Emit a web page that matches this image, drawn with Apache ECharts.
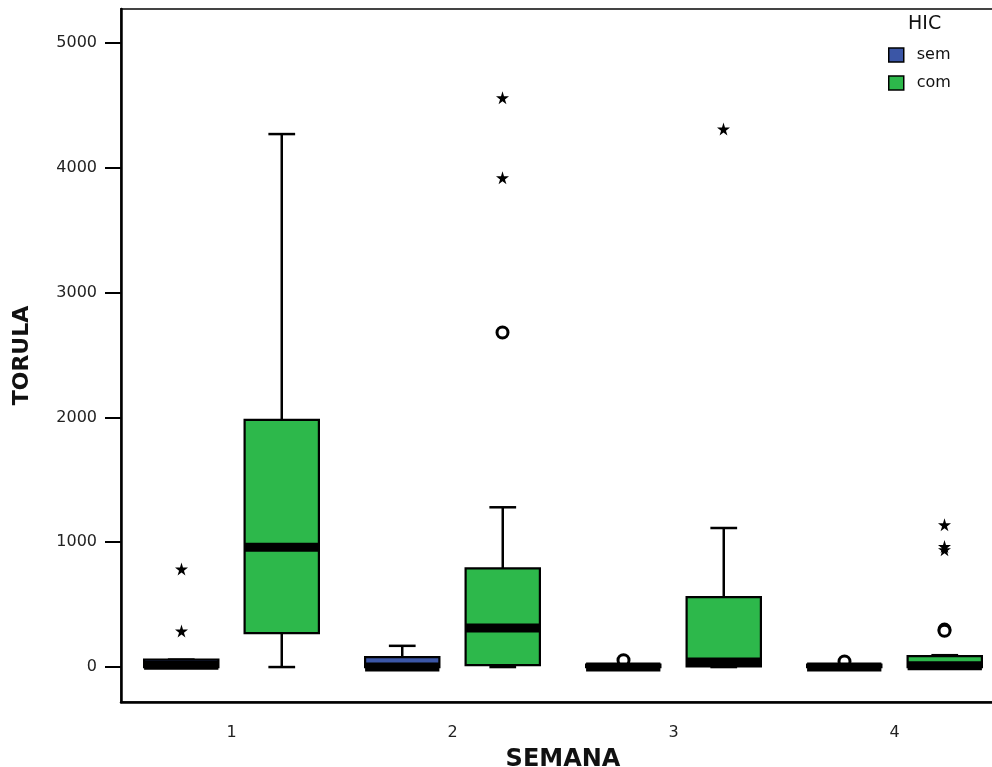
<!DOCTYPE html>
<html>
<head>
<meta charset="utf-8">
<script src="https://cdn.jsdelivr.net/npm/echarts@6/dist/echarts.min.js"></script>
<style>
  html, body { margin: 0; padding: 0; background: #fff; }
  #grafico { width: 992px; height: 767px; }
</style>
</head>
<body>
<div id="grafico"></div>
<script>
// semanas e ticks
var semanas = ['1', '2', '3', '4'];
var ticksY = [0, 1000, 2000, 3000, 4000, 5000];

// caixas: [min, Q1, mediana, Q3, max]
var caixasSem = [
    [0, 0, 15, 60, 60],
    [0, 0, 0, 80, 170],
    [0, 0, 0, 20, 20],
    [0, 0, 0, 20, 20]
];
var caixasCom = [
    [0, 272, 960, 1980, 4270],
    [0, 15, 312, 790, 1280],
    [0, 5, 40, 561, 1114],
    [0, 0, 10, 88, 95]
];

// outliers [semana, valor]
var estrelasSem = [[0, 785], [0, 288]];
var circulosSem = [[2, 55], [3, 45]];
var estrelasCom = [[1, 4560], [1, 3920], [2, 4310], [3, 1140], [3, 965], [3, 940]];
var circulosCom = [[1, 2680], [3, 300], [3, 290]];

var AZUL = '#3b56a6';
var VERDE = '#2db84b';
var ESTRELA = 'path://M50,0 L61,35 L98,35 L68,57 L79,91 L50,70 L21,91 L32,57 L2,35 L39,35 Z';
var fonte = 'DejaVu Sans';

// desloca cada grupo (sem = -1, com = +1) dentro da faixa da categoria
function desenhaCaixa(lado, cor) {
    return function (params, api) {
        var i = api.value(0);
        var banda = api.size([1, 0])[0];
        var util = banda * 0.8 - 2;
        var gap = util / 2 * 0.3;
        var larg = (util - gap) / 2;
        var cx = api.coord([i, 0])[0] + lado * (larg + gap) / 2;
        var yMin = api.coord([i, api.value(1)])[1];
        var yQ1 = api.coord([i, api.value(2)])[1];
        var yMed = api.coord([i, api.value(3)])[1];
        var yQ3 = api.coord([i, api.value(4)])[1];
        var yMax = api.coord([i, api.value(5)])[1];
        var capa = larg * 0.36;
        var linha = { stroke: '#000', lineWidth: 2.5 };
        return {
            type: 'group',
            children: [
                { type: 'line', shape: { x1: cx, y1: yMax, x2: cx, y2: yQ3 }, style: linha },
                { type: 'line', shape: { x1: cx, y1: yQ1, x2: cx, y2: yMin }, style: linha },
                { type: 'line', shape: { x1: cx - capa / 2, y1: yMax, x2: cx + capa / 2, y2: yMax }, style: linha },
                { type: 'line', shape: { x1: cx - capa / 2, y1: yMin, x2: cx + capa / 2, y2: yMin }, style: linha },
                {
                    type: 'rect',
                    shape: { x: cx - larg / 2, y: yQ3, width: larg, height: yQ1 - yQ3 },
                    style: { fill: cor, stroke: '#000', lineWidth: 2.2 }
                },
                {
                    type: 'rect',
                    shape: { x: cx - larg / 2, y: yMed - 4.5, width: larg, height: 9 },
                    style: { fill: '#000' }
                }
            ]
        };
    };
}

function paraCustom(caixas) {
    return caixas.map(function (c, i) { return [i].concat(c); });
}

var chart = echarts.init(document.getElementById('grafico'));

var option = {
    animation: false,
    backgroundColor: '#fff',
    title: {
        text: 'HIC',
        left: 908,
        top: 15,
        padding: 0,
        textStyle: { fontFamily: fonte, fontSize: 19, fontWeight: 'normal', color: '#111' }
    },
    legend: {
        orient: 'vertical',
        left: 888,
        top: 47,
        padding: 0,
        itemWidth: 15,
        itemHeight: 14,
        itemGap: 12,
        textStyle: { fontFamily: fonte, fontSize: 16, color: '#111', padding: [0, 0, 0, 8] },
        data: [
            { name: 'sem', icon: 'rect', itemStyle: { color: AZUL, borderColor: '#000', borderWidth: 1.5 } },
            { name: 'com', icon: 'rect', itemStyle: { color: VERDE, borderColor: '#000', borderWidth: 1.5 } }
        ]
    },
    grid: {
        left: 121,
        top: 9,
        width: 884,
        height: 693,
        outerBoundsMode: 'none',
        containLabel: false,
        show: true,
        borderColor: '#444',
        borderWidth: 2
    },
    xAxis: {
        type: 'category',
        data: semanas,
        boundaryGap: true,
        name: 'SEMANA',
        nameLocation: 'middle',
        nameGap: 46,
        nameTextStyle: { fontFamily: fonte, fontSize: 24, fontWeight: 'bold', color: '#111' },
        axisLine: { onZero: false, lineStyle: { color: '#000', width: 2.5 } },
        axisTick: { alignWithLabel: true, length: 12, lineStyle: { color: '#000', width: 2 } },
        axisLabel: { fontFamily: fonte, fontSize: 16, color: '#222', margin: 23 },
        splitLine: { show: false }
    },
    yAxis: {
        type: 'value',
        min: -280,
        max: 5272,
        name: 'TORULA',
        nameLocation: 'middle',
        nameGap: 88,
        nameTextStyle: { fontFamily: fonte, fontSize: 22, fontWeight: 'bold', color: '#111' },
        axisLine: { show: true, onZero: false, lineStyle: { color: '#000', width: 2.5 } },
        axisTick: { show: true, length: 16, customValues: ticksY, lineStyle: { color: '#000', width: 2 } },
        axisLabel: {
            fontFamily: fonte, fontSize: 16, color: '#222', margin: 24, customValues: ticksY,
            formatter: function (v) { return String(v); }
        },
        splitLine: { show: false }
    },
    series: [
        {
            name: 'sem',
            type: 'custom',
            data: paraCustom(caixasSem),
            encode: { x: 0, y: [1, 2, 3, 4, 5] },
            itemStyle: { color: AZUL },
            renderItem: desenhaCaixa(-1, AZUL),
            z: 2
        },
        {
            name: 'com',
            type: 'custom',
            data: paraCustom(caixasCom),
            encode: { x: 0, y: [1, 2, 3, 4, 5] },
            itemStyle: { color: VERDE },
            renderItem: desenhaCaixa(1, VERDE),
            z: 2
        },
        {
            type: 'scatter',
            data: estrelasSem,
            symbol: ESTRELA,
            symbolSize: 13,
            symbolOffset: [-50, 0],
            itemStyle: { color: '#000', opacity: 1 },
            z: 6
        },
        {
            type: 'scatter',
            data: estrelasCom,
            symbol: ESTRELA,
            symbolSize: 13,
            symbolOffset: [50, 0],
            itemStyle: { color: '#000', opacity: 1 },
            z: 6
        },
        {
            type: 'scatter',
            data: circulosSem,
            symbol: 'circle',
            symbolSize: 11,
            symbolOffset: [-50, 0],
            itemStyle: { color: '#fff', borderColor: '#000', borderWidth: 3, opacity: 1 },
            z: 1
        },
        {
            type: 'scatter',
            data: circulosCom,
            symbol: 'circle',
            symbolSize: 11,
            symbolOffset: [50, 0],
            itemStyle: { color: '#fff', borderColor: '#000', borderWidth: 3, opacity: 1 },
            z: 6
        }
    ]
};

chart.setOption(option);
</script>
</body>
</html>
